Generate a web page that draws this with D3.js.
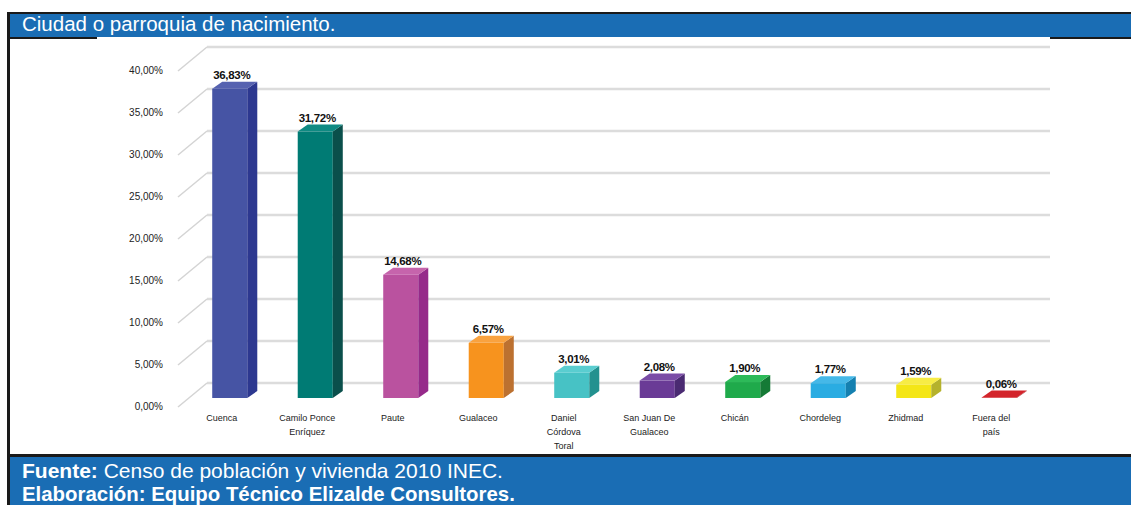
<!DOCTYPE html>
<html><head><meta charset="utf-8">
<script src="https://cdn.jsdelivr.net/npm/d3@7"></script>
<style>body{margin:0;background:#fff;}svg{display:block;font-family:Arial,"Liberation Sans",sans-serif;}</style>
</head><body>
<svg id="c" width="1131" height="505"></svg>
<script>
const title = "Ciudad o parroquia de nacimiento.";
const categories = ["Cuenca", "Camilo Ponce\nEnríquez", "Paute", "Gualaceo", "Daniel\nCórdova\nToral", "San Juan De\nGualaceo", "Chicán", "Chordeleg", "Zhidmad", "Fuera del\npaís"];
const values = [36.83, 31.72, 14.68, 6.57, 3.01, 2.08, 1.90, 1.77, 1.59, 0.06];
const valueLabels = ["36,83%", "31,72%", "14,68%", "6,57%", "3,01%", "2,08%", "1,90%", "1,77%", "1,59%", "0,06%"];
const tickValues = [0, 5, 10, 15, 20, 25, 30, 35, 40];
const tickLabels = ["0,00%", "5,00%", "10,00%", "15,00%", "20,00%", "25,00%", "30,00%", "35,00%", "40,00%"];
const frontColors = ["#4654A4", "#007B74", "#BA529F", "#F7931E", "#47C2C5", "#6A3B96", "#1FAA4B", "#2AACE2", "#F4E616", "#D3242B"];
const sideColors  = ["#2D3890", "#0A4F4B", "#962A8A", "#BC7130", "#23918F", "#4A2A72", "#157A36", "#1480B0", "#B5B22C", "#9B1B20"];
const topColors   = ["#5662B0", "#0F8A83", "#C664AC", "#F9A23F", "#5ACDD0", "#7A4CA6", "#2DBA59", "#45B8E8", "#F7EC45", "#DD3A40"];
const sourceBold = "Fuente:";
const sourceText = " Censo de población y vivienda 2010 INEC.";
const credit = "Elaboración: Equipo Técnico Elizalde Consultores.";

const svg = d3.select("#c");
const W = 1131, H = 505;

// frame: header
svg.append("rect").attr("x", 8).attr("y", 12).attr("width", W - 8).attr("height", 2).attr("fill", "#1a1a1a");
svg.append("rect").attr("x", 8).attr("y", 14).attr("width", W - 8).attr("height", 23).attr("fill", "#1A6DB4");
svg.append("text").attr("x", 22).attr("y", 31).attr("fill", "#fff").attr("font-size", 20.5).text(title);
svg.append("rect").attr("x", 8).attr("y", 37).attr("width", 89).attr("height", 2).attr("fill", "#1a1a1a");
svg.append("rect").attr("x", 1050).attr("y", 37).attr("width", W - 1050).attr("height", 2).attr("fill", "#1a1a1a");

// footer
svg.append("rect").attr("x", 8).attr("y", 454).attr("width", W - 8).attr("height", 3).attr("fill", "#1a1a1a");
svg.append("rect").attr("x", 8).attr("y", 457).attr("width", W - 8).attr("height", H - 457).attr("fill", "#1A6DB4");
const f1 = svg.append("text").attr("x", 22).attr("y", 478).attr("fill", "#fff").attr("font-size", 21);
f1.append("tspan").attr("font-weight", "bold").text(sourceBold);
f1.append("tspan").text(sourceText);
svg.append("text").attr("x", 22).attr("y", 501).attr("fill", "#fff").attr("font-size", 20.4).attr("font-weight", "bold").text(credit);
// left border
svg.append("rect").attr("x", 7).attr("y", 12).attr("width", 3).attr("height", H - 12).attr("fill", "#1a1a1a");

// scales
const yBack = d3.scaleLinear().domain([0, 40]).range([383, 47]);
const barDy = 15;     // bar front plane offset from back wall
const lblDx = -31, lblDy = 23;  // label plane offset
const x = d3.scaleBand().domain(categories).range([187, 1042]).padding(0);
const barW = x.step() * 0.41;
const depthX = 10, depthY = -7;

// gridlines
const grid = svg.append("g");
tickValues.forEach((t, i) => {
  const yb = yBack(t);
  grid.append("line").attr("x1", 207).attr("x2", 1050).attr("y1", yb).attr("y2", yb)
    .attr("stroke", "#dcdcdc").attr("stroke-width", 2.5);
  grid.append("line").attr("x1", 207 + lblDx + 2).attr("y1", yb + lblDy + 1).attr("x2", 207).attr("y2", yb)
    .attr("stroke", "#d4d4d4").attr("stroke-width", 1.5);
  grid.append("text").attr("x", 163).attr("y", yb + lblDy).attr("dy", "0.35em")
    .attr("text-anchor", "end").attr("font-size", 10).attr("fill", "#222").text(tickLabels[i]);
});

// bars
const bars = svg.append("g");
categories.forEach((c, i) => {
  const cx = x(c) + x.bandwidth() / 2;
  const x0 = cx - barW / 2, x1 = cx + barW / 2;
  const yb = yBack(0) + barDy;
  const yt = yBack(values[i]) + barDy;
  bars.append("rect").attr("x", x0).attr("y", yt).attr("width", barW).attr("height", Math.max(0, yb - yt)).attr("fill", frontColors[i]);
  bars.append("polygon").attr("points", [[x1, yt], [x1 + depthX, yt + depthY], [x1 + depthX, yb + depthY], [x1, yb]].map(p => p.join(",")).join(" "))
    .attr("fill", sideColors[i]);
  bars.append("polygon").attr("points", [[x0, yt], [x0 + depthX, yt + depthY], [x1 + depthX, yt + depthY], [x1, yt]].map(p => p.join(",")).join(" "))
    .attr("fill", i === categories.length - 1 ? frontColors[i] : topColors[i]);
  bars.append("text").attr("x", cx + 2).attr("y", yt - 14).attr("dy", "0.35em").attr("text-anchor", "middle")
    .attr("font-size", 11.5).attr("font-weight", "bold").attr("fill", "#111").attr("letter-spacing", -0.3).text(valueLabels[i]);
  const lines = c.split("\n");
  const t = bars.append("text").attr("text-anchor", "middle").attr("font-size", 9).attr("fill", "#222");
  lines.forEach((ln, k) => {
    t.append("tspan").attr("x", cx - 8).attr("y", 421 + k * 14).text(ln);
  });
});
</script>
</body></html>
